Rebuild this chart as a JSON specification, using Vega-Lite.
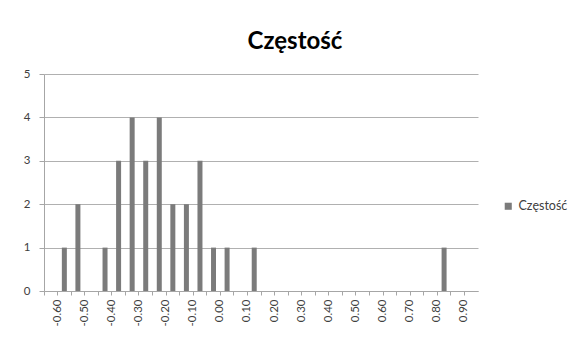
{
  "$schema": "https://vega.github.io/schema/vega-lite/v6.json",
  "autosize": "none",
  "width": 434,
  "height": 217,
  "padding": {"left": 44, "top": 74, "right": 104, "bottom": 61},
  "background": "white",
  "title": {
    "text": "Częstość",
    "font": "Lato",
    "fontSize": 24,
    "fontWeight": "bold",
    "color": "#000000",
    "anchor": "middle",
    "dx": 34,
    "dy": 30,
    "baseline": "bottom",
    "offset": 20
  },
  "data": {
    "values": [
      {"bin": "-0.60", "count": 0},
      {"bin": "-0.55", "count": 1},
      {"bin": "-0.50", "count": 2},
      {"bin": "-0.45", "count": 0},
      {"bin": "-0.40", "count": 1},
      {"bin": "-0.35", "count": 3},
      {"bin": "-0.30", "count": 4},
      {"bin": "-0.25", "count": 3},
      {"bin": "-0.20", "count": 4},
      {"bin": "-0.15", "count": 2},
      {"bin": "-0.10", "count": 2},
      {"bin": "-0.05", "count": 3},
      {"bin": "0.00", "count": 1},
      {"bin": "0.05", "count": 1},
      {"bin": "0.10", "count": 0},
      {"bin": "0.15", "count": 1},
      {"bin": "0.20", "count": 0},
      {"bin": "0.25", "count": 0},
      {"bin": "0.30", "count": 0},
      {"bin": "0.35", "count": 0},
      {"bin": "0.40", "count": 0},
      {"bin": "0.45", "count": 0},
      {"bin": "0.50", "count": 0},
      {"bin": "0.55", "count": 0},
      {"bin": "0.60", "count": 0},
      {"bin": "0.65", "count": 0},
      {"bin": "0.70", "count": 0},
      {"bin": "0.75", "count": 0},
      {"bin": "0.80", "count": 0},
      {"bin": "0.85", "count": 1},
      {"bin": "0.90", "count": 0},
      {"bin": "0.95", "count": 0}
    ]
  },
  "mark": {"type": "bar", "size": 5},
  "encoding": {
    "x": {
      "field": "bin",
      "type": "ordinal",
      "sort": null,
      "scale": {"paddingInner": 0, "paddingOuter": 0},
      "axis": {
        "title": null,
        "bandPosition": 0,
        "labelOffset": 6.8,
        "labelAngle": -90,
        "labelAlign": "right",
        "labelBaseline": "middle",
        "labelPadding": 4,
        "labelFont": "Lato",
        "labelFontSize": 11.5,
        "labelColor": "#404040",
        "labelExpr": "slice(datum.label, -1) == '0' ? datum.label : ''",
        "domainColor": "#a6a6a6",
        "tickColor": "#a6a6a6",
        "tickSize": 4,
        "grid": false
      }
    },
    "y": {
      "field": "count",
      "type": "quantitative",
      "scale": {"domain": [0, 5], "nice": false},
      "axis": {
        "title": null,
        "values": [0, 1, 2, 3, 4, 5],
        "labelFont": "Lato",
        "labelFontSize": 11.5,
        "labelColor": "#404040",
        "labelPadding": 9,
        "domainColor": "#a6a6a6",
        "tickColor": "#a6a6a6",
        "tickSize": 5,
        "gridColor": "#b0b0b0",
        "gridWidth": 1
      }
    },
    "color": {
      "datum": "Częstość",
      "type": "nominal",
      "scale": {"range": ["#7b7b7b"]},
      "legend": {
        "title": null,
        "orient": "none",
        "legendX": 458,
        "legendY": 126,
        "symbolType": "square",
        "symbolSize": 50,
        "labelFont": "Lato",
        "labelFontSize": 12.5,
        "labelColor": "#404040"
      }
    }
  },
  "config": {
    "view": {"stroke": null}
  }
}
